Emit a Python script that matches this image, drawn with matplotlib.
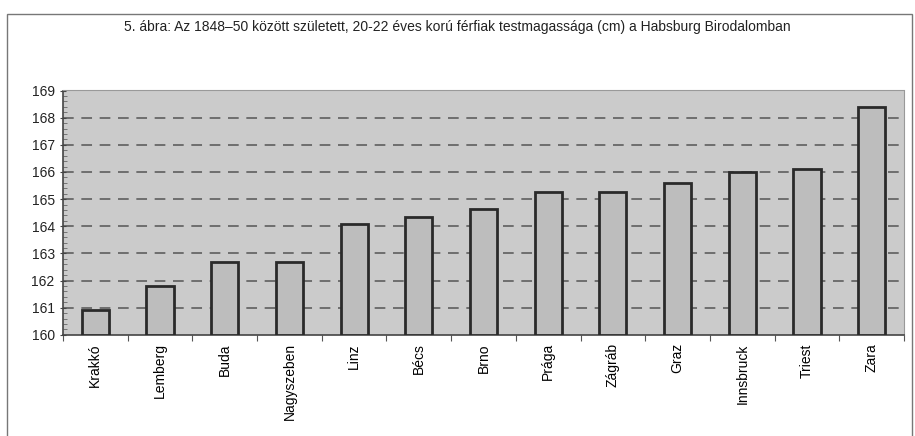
import matplotlib
matplotlib.use('Agg')
import matplotlib.pyplot as plt
from matplotlib.patches import Rectangle
from matplotlib.ticker import MultipleLocator

plt.rcParams['font.family'] = ['Liberation Sans', 'DejaVu Sans']

cities = ['Krakkó', 'Lemberg', 'Buda', 'Nagyszeben', 'Linz', 'Bécs', 'Brno',
          'Prága', 'Zágráb', 'Graz', 'Innsbruck', 'Triest', 'Zara']
heights = [160.9, 161.8, 162.7, 162.7, 164.1, 164.35, 164.65,
           165.25, 165.25, 165.6, 166.0, 166.1, 168.4]
title = '5. ábra: Az 1848–50 között született, 20-22 éves korú férfiak testmagassága (cm) a Habsburg Birodalomban'

fig = plt.figure(figsize=(9.15, 4.36), dpi=100)
fig.patch.set_facecolor('white')
# outer chart frame
fig.add_artist(Rectangle((7/915, -0.05), 905/915, 1.05 - 14/436, transform=fig.transFigure,
                         fill=False, edgecolor='#777777', lw=1))
fig.text(0.5, 1 - 27/436, title, ha='center', va='center', fontsize=10, color='#222222')

ax = fig.add_axes([63/915, 1 - 334.8/436, 841/915, 244.3/436])
ax.set_facecolor('#cbcbcb')
x = range(len(cities))
ax.bar(x, [h - 160 for h in heights], bottom=160, width=0.42, color='#bdbdbd',
       edgecolor='#2a2a2a', lw=2, zorder=3)
ax.set_ylim(160, 169)
ax.set_xlim(-0.5, len(cities) - 0.5)
ax.yaxis.set_major_locator(MultipleLocator(1))
ax.yaxis.set_minor_locator(MultipleLocator(0.2))
for y in range(161, 169):
    ax.axhline(y, color='#555555', lw=1.1, ls=(0, (7, 5)), zorder=1)
ax.set_xticks([i + 0.5 for i in range(-1, len(cities))], minor=False)
ax.set_xticklabels([])
ax.set_xticks(list(x), minor=True)
ax.set_xticklabels(cities, minor=True, rotation=90, fontsize=10, va='top')
ax.tick_params(axis='x', which='minor', length=0, pad=6)
ax.tick_params(axis='x', which='major', length=4, direction='out', color='#555555')
ax.tick_params(axis='y', which='major', length=5, direction='inout', labelsize=10, color='#444444')
ax.tick_params(axis='y', which='minor', length=3, direction='in', color='#666666')
ax.yaxis.set_tick_params(labelcolor='#222222')
for s in ['left', 'bottom']:
    ax.spines[s].set_color('#444444')
    ax.spines[s].set_linewidth(1.2)
for s in ['top', 'right']:
    ax.spines[s].set_color('#999999')
    ax.spines[s].set_linewidth(0.8)

fig.savefig('out.png', dpi=100)
